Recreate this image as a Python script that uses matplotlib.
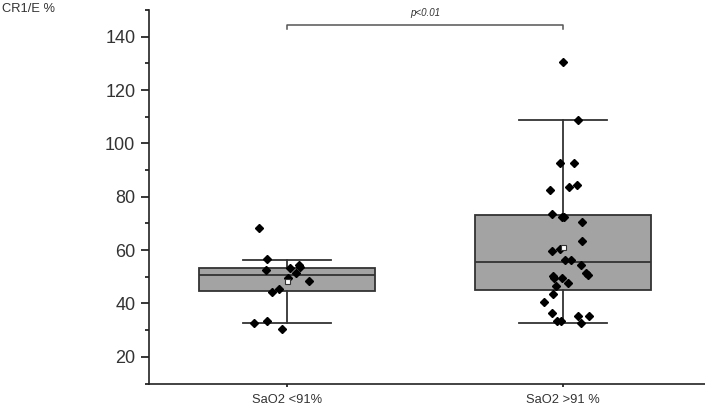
import numpy as np
import matplotlib
matplotlib.use('Agg')
import matplotlib.pyplot as plt

plt.rcParams['font.family'] = ['Liberation Sans', 'DejaVu Sans']

groups = ['SaO2 <91%', 'SaO2 >91 %']

# box statistics: whisker low, q1, median, q3, whisker high, mean
box_low = [32.5, 32.5]
box_q1 = [44.5, 45.1]
box_med = [50.6, 55.7]
box_q3 = [53.3, 73.1]
box_high = [56.4, 108.7]
box_mean = [48.4, 61.0]

# individual points: value and horizontal jitter (in category units)
g1_vals = [68.4, 56.5, 52.5, 53.4, 54.4, 53.5, 51.4, 49.6, 48.5, 45.6, 44.4, 32.5, 33.4, 30.4]
g1_jit = [-0.100, -0.071, -0.077, 0.012, 0.043, 0.046, 0.033, 0.005, 0.081, -0.028, -0.054, -0.118, -0.071, -0.017]

g2_vals = [130.5, 108.6, 92.5, 92.5, 82.5, 83.5, 84.5, 73.5, 72.5, 72.5, 70.4, 63.5,
           59.5, 60.4, 56.4, 56.4, 54.5, 51.5, 50.5, 50.4, 49.4, 49.5, 47.5, 46.4,
           43.4, 40.5, 36.5, 35.4, 35.4, 33.5, 33.5, 32.5]
g2_jit = [0.001, 0.055, -0.009, 0.041, -0.045, 0.023, 0.052, -0.038, -0.005, 0.005, 0.071, 0.071,
          -0.040, -0.011, 0.007, 0.028, 0.064, 0.083, 0.090, -0.035, -0.031, -0.005, 0.019, -0.026,
          -0.035, -0.069, -0.038, 0.055, 0.095, -0.023, -0.007, 0.065]

p_text = 'p<0.01'

fig = plt.figure(figsize=(7.05, 4.08), dpi=100)
ax = fig.add_axes([0.2113, 0.06, 0.7887, 0.9155])

line_col = '#333333'
stats = []
for i in range(2):
    stats.append({'whislo': box_low[i], 'q1': box_q1[i], 'med': box_med[i],
                  'q3': box_q3[i], 'whishi': box_high[i], 'fliers': [], 'mean': box_mean[i]})

ax.bxp(stats, positions=[1, 2], widths=0.64, patch_artist=True, showmeans=False,
       showfliers=False,
       boxprops=dict(facecolor='#a3a3a3', edgecolor=line_col, linewidth=1.3),
       medianprops=dict(color=line_col, linewidth=1.3),
       whiskerprops=dict(color=line_col, linewidth=1.3),
       capprops=dict(color=line_col, linewidth=1.3), capwidths=0.32)

# points
ax.plot(1 + np.array(g1_jit), g1_vals, 'D', color='black', markersize=4.3, zorder=4)
ax.plot(2 + np.array(g2_jit), g2_vals, 'D', color='black', markersize=4.3, zorder=4)

# mean markers
ax.plot([1, 2], box_mean, 's', markerfacecolor='white', markeredgecolor=line_col,
        markersize=3.6, markeredgewidth=0.8, zorder=5)

# significance bracket
ax.plot([1, 1, 2, 2], [143, 144.5, 144.5, 143], color='#555555', linewidth=1.1, clip_on=False)
ax.text(1.5, 149, p_text, ha='center', va='center', fontsize=7, style='italic', color='#333333')

ax.set_xlim(0.5, 2.515)
ax.set_ylim(10, 150)
ax.set_xticks([1, 2])
ax.set_xticklabels(groups, fontsize=9.3, color='#333333')
ax.set_yticks(range(20, 141, 20))
ax.set_yticks(range(10, 151, 20), minor=True)
ax.tick_params(axis='y', which='major', labelsize=13, labelcolor='#333333', length=5.8, width=1.1, pad=4)
ax.tick_params(axis='y', which='minor', length=3, width=1.1)
ax.tick_params(axis='x', length=2.5, width=1.1, pad=5)
for side in ['top', 'right']:
    ax.spines[side].set_visible(False)
for side in ['left', 'bottom']:
    ax.spines[side].set_linewidth(1.2)
    ax.spines[side].set_color('#222222')

fig.text(0.003, 0.977, 'CR1/E %', fontsize=9.3, color='#333333', ha='left', va='center')

fig.savefig('out.png', dpi=100)
